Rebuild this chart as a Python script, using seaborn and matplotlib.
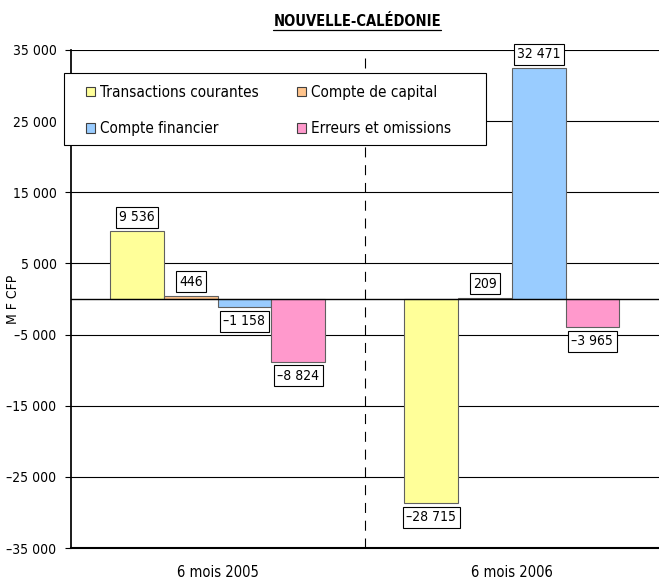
import pandas as pd
import matplotlib.pyplot as plt
import matplotlib.ticker as mticker
import seaborn as sns

# ── Données ───────────────────────────────────────────────
periodes = ["6 mois 2005", "6 mois 2006"]
postes = ["Transactions courantes", "Compte de capital",
          "Compte financier", "Erreurs et omissions"]
valeurs_2005 = [9536, 446, -1158, -8824]
valeurs_2006 = [-28715, 209, 32471, -3965]

df = pd.DataFrame({
    "periode": [periodes[0]] * 4 + [periodes[1]] * 4,
    "poste": postes * 2,
    "valeur": valeurs_2005 + valeurs_2006,
})

couleurs = {
    "Transactions courantes": "#FFFF99",
    "Compte de capital": "#FFC48C",
    "Compte financier": "#99CCFF",
    "Erreurs et omissions": "#FF99CC",
}

def fmt(v):
    s = f"{abs(int(v)):,}".replace(",", " ")
    return ("–" if v < 0 else "") + s

# ── Figure ────────────────────────────────────────────────
sns.set_theme(style="white")
plt.rcParams["font.family"] = ["DejaVu Sans"]
plt.rcParams["font.stretch"] = "condensed"
plt.rcParams["text.color"] = "black"
plt.rcParams["xtick.color"] = "black"
plt.rcParams["ytick.color"] = "black"
plt.rcParams["axes.labelcolor"] = "black"

fig = plt.figure(figsize=(6.59, 5.84), dpi=100)
ax = fig.add_axes([0.107, 0.0616, 0.893, 0.8528])

sns.barplot(data=df, x="periode", y="valeur", hue="poste", order=periodes,
            hue_order=postes, palette=couleurs, width=0.73, saturation=1,
            edgecolor="#606060", linewidth=0.8, ax=ax, legend=False)

ax.set_ylim(-35000, 35000)
ax.set_xlim(-0.5, 1.5)
ax.set_yticks(range(-35000, 35001, 10000))
ax.yaxis.set_major_formatter(mticker.FuncFormatter(lambda v, p: fmt(v)))
for y in range(-35000, 35001, 10000):
    ax.axhline(y, color="black", linewidth=0.8, zorder=0)
ax.axhline(0, color="black", linewidth=1.0, zorder=3)
ax.axvline(0.5, color="black", linewidth=0.8, linestyle=(0, (9, 7)), zorder=0)

ax.tick_params(axis="y", left=True, length=4, width=0.8, pad=6, labelsize=10, color="black")
ax.tick_params(axis="x", bottom=False, labelsize=10.5, pad=6)
ax.set_xlabel("")
ax.set_ylabel("M F CFP", fontsize=10)
ax.yaxis.set_label_coords(-0.086, 0.5)
for s in ["top", "right"]:
    ax.spines[s].set_visible(False)
ax.spines["left"].set_color("black")
ax.spines["bottom"].set_color("black")
ax.spines["bottom"].set_linewidth(1.5)

# étiquettes de valeurs
for cont in ax.containers:
    for bar in cont:
        h = bar.get_height()
        x = bar.get_x() + bar.get_width() / 2
        off = 5 if h >= 0 else -5
        ax.annotate(fmt(h), (x, h), xytext=(0, off), textcoords="offset points",
                    ha="center", va="bottom" if h >= 0 else "top", fontsize=10,
                    bbox=dict(boxstyle="square,pad=0.25", fc="white", ec="black", lw=0.8),
                    zorder=5)

# cadre de la légende (plus large que son contenu, comme dans Excel)
cadre = plt.Rectangle((-0.011, 0.809), 0.717, 0.145, transform=ax.transAxes,
                      fc="white", ec="black", lw=0.8, clip_on=False, zorder=5.5)
ax.add_patch(cadre)

# légende (ordre en lignes comme dans l'original)
ordre = [postes[0], postes[2], postes[1], postes[3]]
handles = [plt.Rectangle((0, 0), 1, 1, fc=couleurs[p], ec="#404040", lw=0.8) for p in ordre]
leg = ax.legend(handles, ordre, ncol=2, loc="upper left",
                bbox_to_anchor=(0.026, 0.93), borderaxespad=0, fontsize=11,
                frameon=False, handlelength=0.6, handleheight=0.6,
                handletextpad=0.3, columnspacing=2.55, borderpad=0,
                labelspacing=1.4)
leg.set_zorder(6)

# titre souligné
titre = fig.text(0.542, 0.964, "NOUVELLE-CALÉDONIE", ha="center", va="center",
                 fontsize=10.5, fontweight="bold")
fig.canvas.draw()
bb = titre.get_window_extent().transformed(fig.transFigure.inverted())
fig.add_artist(plt.Line2D([bb.x0, bb.x1], [bb.y0 - 0.002, bb.y0 - 0.002],
                          color="black", linewidth=0.9))

plt.savefig("out.png", dpi=100)
